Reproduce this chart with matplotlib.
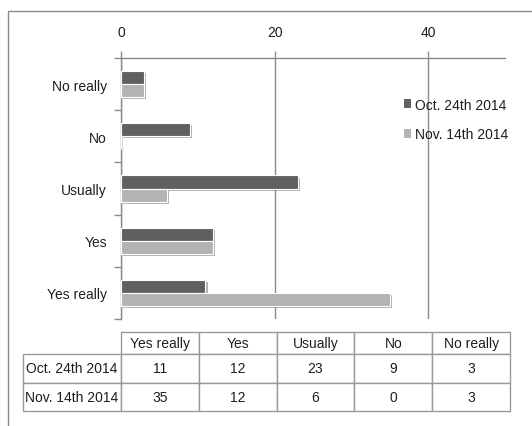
import numpy as np
import matplotlib.pyplot as plt
import matplotlib.patheffects as pe
from matplotlib.patches import Rectangle

plt.rcParams['font.family'] = ['Liberation Sans Narrow', 'Liberation Sans', 'DejaVu Sans']

categories = ['Yes really', 'Yes', 'Usually', 'No', 'No really']
series_names = ['Oct. 24th 2014', 'Nov. 14th 2014']
oct_values = [11, 12, 23, 9, 3]
nov_values = [35, 12, 6, 0, 3]
colors = ['#606060', '#b3b3b3']
x_ticks = [0, 20, 40]

line_gray = '#8a8a8a'
text_col = '#1e1e1e'

fig = plt.figure(figsize=(5.32, 4.27), dpi=100)
W, H = 532, 427

# outer chart frame (runs off the right and bottom edges)
fig.patches.append(Rectangle((8 / W, -0.1), 1.2, 1 - 12 / H + 0.1,
                             transform=fig.transFigure, fill=False,
                             edgecolor=line_gray, linewidth=1))

ax = fig.add_axes([121 / W, 1 - 320 / H, (505 - 121) / W, (320 - 59) / H])

y = np.arange(len(categories))
h = 0.25
shadow = [pe.SimplePatchShadow(offset=(1.5, -1.5), shadow_rgbFace='black', alpha=0.3),
          pe.Normal()]
b1 = ax.barh(y + h / 2, oct_values, height=h, color=colors[0], edgecolor='white',
             linewidth=0.8, label=series_names[0], zorder=3)
b2 = ax.barh(y - h / 2, nov_values, height=h, color=colors[1], edgecolor='white',
             linewidth=0.8, label=series_names[1], zorder=3)
for bar in list(b1) + list(b2):
    bar.set_path_effects(shadow)

ax.set_xlim(0, 50)
ax.set_ylim(-0.5, len(categories) - 0.5)
ax.xaxis.tick_top()
ax.set_xticks(x_ticks)
ax.tick_params(axis='x', direction='out', length=5, width=1, color=line_gray,
               pad=9, labelsize=10, labelcolor=text_col)
ax.grid(axis='x', color=line_gray, linewidth=1, zorder=0)

ax.set_yticks(y)
ax.set_yticklabels(categories)
ax.set_yticks(np.arange(-0.5, len(categories), 1), minor=True)
ax.tick_params(axis='y', which='major', length=0, pad=10, labelsize=10,
               labelcolor=text_col)
ax.tick_params(axis='y', which='minor', length=5, width=1, color=line_gray)

for side in ['right', 'bottom']:
    ax.spines[side].set_visible(False)
for side in ['top', 'left']:
    ax.spines[side].set_color(line_gray)
    ax.spines[side].set_linewidth(1)

leg = ax.legend(loc='upper left', bbox_to_anchor=(391 / W, 1 - 86 / H),
                bbox_transform=fig.transFigure, frameon=False, fontsize=10,
                handlelength=0.55, handleheight=0.55, handletextpad=0.3,
                labelspacing=1.15, labelcolor=text_col)
for handle in leg.legend_handles:
    handle.set_path_effects([])
    handle.set_edgecolor('none')

# data table under the chart: header row plus one row per series
tw, th = 510 - 23, 412 - 333
tax = fig.add_axes([23 / W, 1 - 412 / H, tw / W, th / H])
tax.axis('off')
rows = [[''] + categories,
        [series_names[0]] + [str(v) for v in oct_values],
        [series_names[1]] + [str(v) for v in nov_values]]
tbl = tax.table(cellText=rows, cellLoc='center', bbox=[0, 0, 1, 1])
tbl.auto_set_font_size(False)
for (r, c), cell in tbl.get_celld().items():
    cell.set_edgecolor('#9a9a9a')
    cell.set_linewidth(1)
    cell.get_text().set_fontsize(10)
    cell.get_text().set_color(text_col)
    cell.set_width((98 if c == 0 else 77.8) / tw)
    cell.set_height((22 if r == 0 else 28.5) / th)
    if c == 0:
        cell._loc = 'left'
        cell.PAD = 0.02
        if r == 0:
            cell.set_edgecolor('none')

fig.savefig('out.png', dpi=100)
